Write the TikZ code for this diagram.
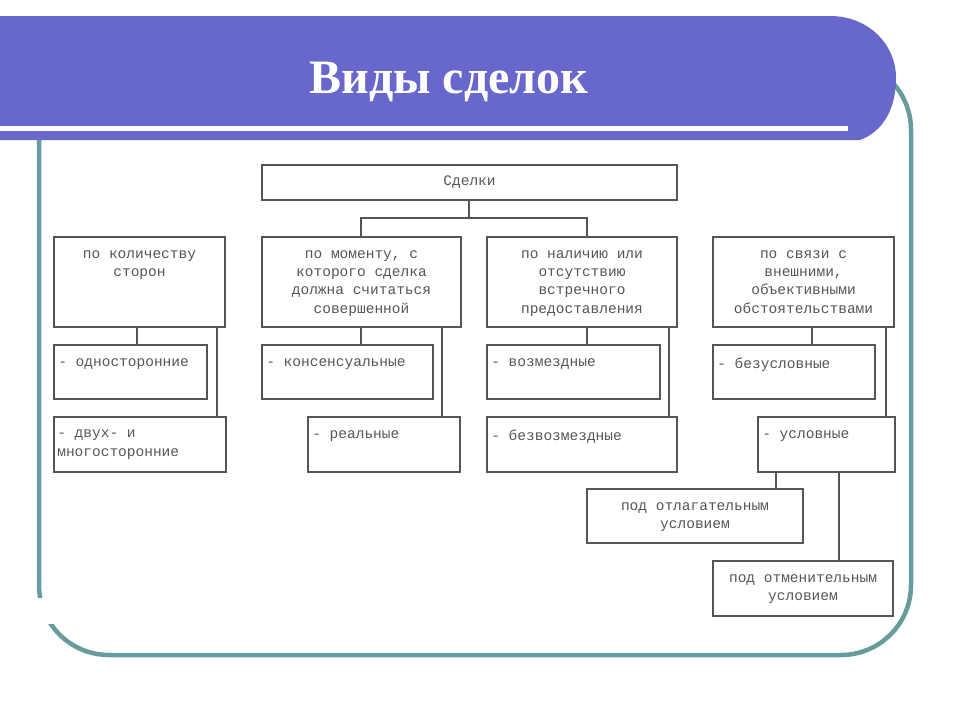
\documentclass[tikz,border=0pt]{standalone}
\usepackage{fontspec}
\setmainfont{Liberation Serif}
\newfontfamily\boxfont{Liberation Mono}
\definecolor{banner}{RGB}{103,103,204}
\definecolor{frameteal}{RGB}{104,156,156}
\definecolor{boxline}{RGB}{85,85,85}
\definecolor{boxtext}{RGB}{85,85,85}
\tikzset{
  box/.style={draw=boxline, line width=1.8pt, fill=white, inner sep=0pt},
  conn/.style={draw=boxline, line width=1.8pt},
  btext/.style={text=boxtext, font=\boxfont\fontsize{14.5}{18.3}\selectfont, inner sep=0pt},
  hdtext/.style={btext, align=center, anchor=north},
  subtext/.style={btext, align=left, anchor=north west},
}
\begin{document}
\begin{tikzpicture}[x=1pt,y=-1pt]
\useasboundingbox (0,0) rectangle (960,720);
% slide frame
\draw[frameteal, line width=4.5pt, rounded corners=70pt] (39,60) rectangle (911,655);
\fill[white] (30,598) rectangle (58,624);
% banner
\fill[banner] (0,16) -- (830,16) .. controls (868,16) and (896,44) .. (896,78)
  .. controls (896,110) and (882,132) .. (860,140) -- (0,140) -- cycle;
\fill[white] (0,126) rectangle (848,131);
\node[text=white, font=\fontsize{48}{52}\selectfont\bfseries, anchor=base] (title) at (449,93) {Виды сделок};

% boxes
\node[box, minimum width=415pt, minimum height=35pt] (top) at (469.5,182.5) {};
\node[btext] (toptxt) at (top.center) {Сделки};

\node[box, minimum width=171pt, minimum height=90pt] (b1) at (139.5,282) {};
\node[box, minimum width=199pt, minimum height=90pt] (b2) at (361.5,282) {};
\node[box, minimum width=190pt, minimum height=90pt] (b3) at (582,282) {};
\node[box, minimum width=181pt, minimum height=90pt] (b4) at (803.5,282) {};

\node[hdtext] (t1) at ([yshift=-14pt]b1.north) {по количеству\\сторон};
\node[hdtext] (t2) at ([yshift=-14pt]b2.north) {по моменту, с\\которого сделка\\должна считаться\\совершенной};
\node[hdtext] (t3) at ([yshift=-14pt]b3.north) {по наличию или\\отсутствию\\встречного\\предоставления};
\node[hdtext] (t4) at ([yshift=-14pt]b4.north) {по связи с\\внешними,\\объективными\\обстоятельствами};

\node[box, minimum width=153pt, minimum height=54pt] (s1a) at (130.5,372) {};
\node[box, minimum width=172pt, minimum height=55pt] (s1b) at (140,444.5) {};
\node[box, minimum width=171pt, minimum height=54pt] (s2a) at (347.5,372) {};
\node[box, minimum width=152pt, minimum height=55pt] (s2b) at (384,444.5) {};
\node[box, minimum width=173pt, minimum height=54pt] (s3a) at (573.5,372) {};
\node[box, minimum width=190pt, minimum height=55pt] (s3b) at (582,444.5) {};
\node[box, minimum width=162pt, minimum height=54pt] (s4a) at (794,372) {};
\node[box, minimum width=137pt, minimum height=55pt] (s4b) at (826.5,444.5) {};
\node[box, minimum width=216pt, minimum height=54pt] (s5a) at (695,516) {};
\node[box, minimum width=180pt, minimum height=55pt] (s5b) at (803,588.5) {};

\node[subtext] (u1a) at ([xshift=5pt,yshift=-14pt]s1a.north west) {- односторонние};
\node[subtext] (u1b) at ([xshift=4pt,yshift=-14pt]s1b.north west) {- двух- и\\многосторонние};
\node[subtext] (u2a) at ([xshift=5pt,yshift=-14pt]s2a.north west) {- консенсуальные};
\node[subtext] (u2b) at ([xshift=5pt,yshift=-14pt]s2b.north west) {- реальные};
\node[subtext] (u3a) at ([xshift=5pt,yshift=-14pt]s3a.north west) {- возмездные};
\node[subtext] (u3b) at ([xshift=5pt,yshift=-14pt]s3b.north west) {- безвозмездные};
\node[subtext] (u4a) at ([xshift=5pt,yshift=-14pt]s4a.north west) {- безусловные};
\node[subtext] (u4b) at ([xshift=5pt,yshift=-14pt]s4b.north west) {- условные};
\node[hdtext] (u5a) at ([yshift=-14pt]s5a.north) {под отлагательным\\условием};
\node[hdtext] (u5b) at ([yshift=-14pt]s5b.north) {под отменительным\\условием};

% column coordinates
\coordinate (c137) at (137,0);
\coordinate (c217) at (217,0);
\coordinate (c361) at (361,0);
\coordinate (c442) at (442,0);
\coordinate (c587) at (587,0);
\coordinate (c669) at (669,0);
\coordinate (c812) at (812,0);
\coordinate (c886) at (886,0);
\coordinate (c776) at (776,0);
\coordinate (c839) at (839,0);
\coordinate (j) at (469,218);

% connectors
\draw[conn] (top.south -| j) -- (j);
\draw[conn] (b2.north -| c361) |- (j) -| (b3.north -| c587);
\draw[conn] (b1.south -| c137) -- (s1a.north -| c137);
\draw[conn] (b1.south -| c217) -- (s1b.north -| c217);
\draw[conn] (b2.south -| c361) -- (s2a.north -| c361);
\draw[conn] (b2.south -| c442) -- (s2b.north -| c442);
\draw[conn] (b3.south -| c587) -- (s3a.north -| c587);
\draw[conn] (b3.south -| c669) -- (s3b.north -| c669);
\draw[conn] (b4.south -| c812) -- (s4a.north -| c812);
\draw[conn] (b4.south -| c886) -- (s4b.north -| c886);
\draw[conn] (s4b.south -| c776) -- (s5a.north -| c776);
\draw[conn] (s4b.south -| c839) -- (s5b.north -| c839);
\end{tikzpicture}
\end{document}
